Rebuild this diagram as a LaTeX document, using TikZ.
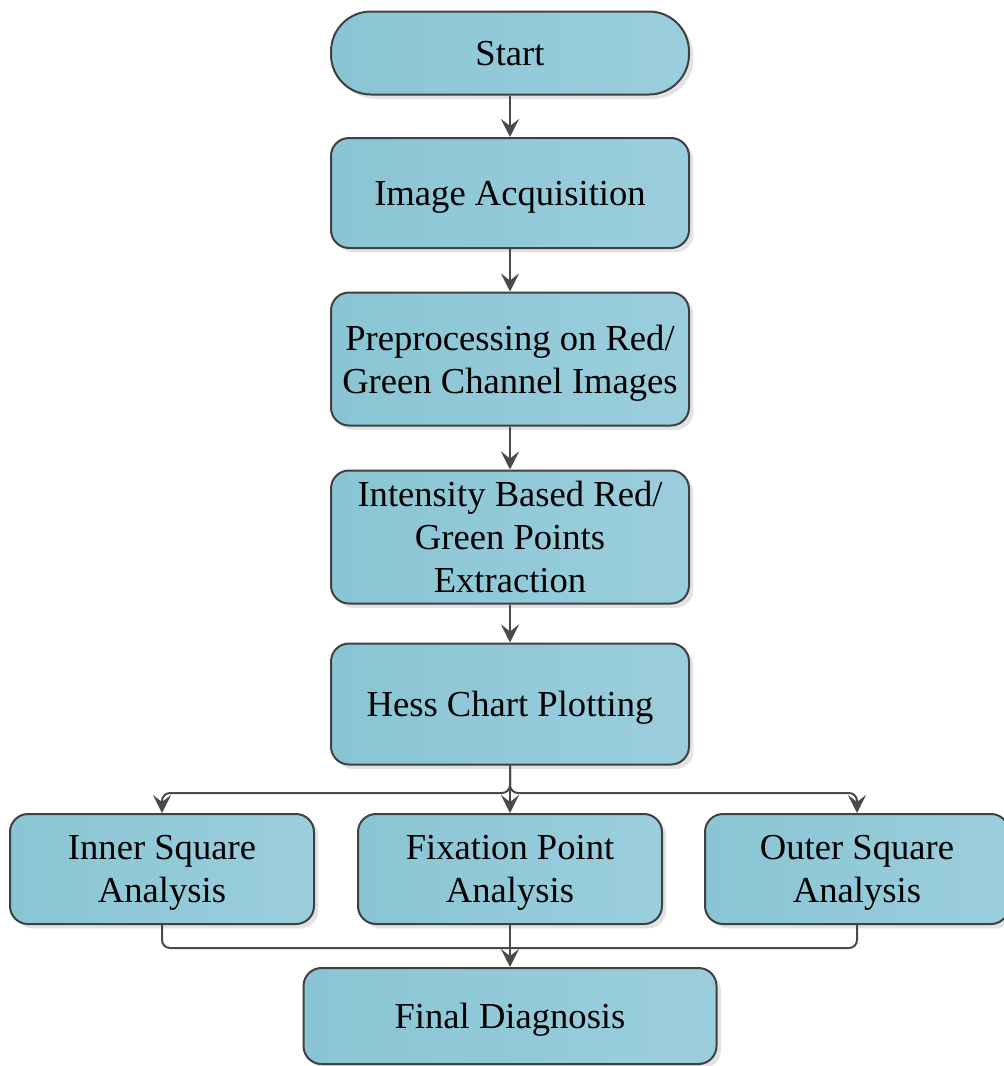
\documentclass[tikz,border=0pt]{standalone}
\usepackage{fontspec}
\setmainfont{Liberation Serif}
\usetikzlibrary{arrows.meta,shadows,positioning}

\definecolor{boxfill}{HTML}{89C5D4}
\definecolor{boxlight}{HTML}{9BCEDD}
\definecolor{boxline}{HTML}{404040}
\definecolor{wire}{HTML}{4A4A4A}

\tikzset{
  process/.style={draw=boxline, line width=1pt, rounded corners=9pt,
    left color=boxfill, right color=boxlight,
    drop shadow={shadow xshift=2.2pt, shadow yshift=-2.2pt, fill=black!22},
    align=center, inner sep=2pt, text depth=0pt,
    font=\fontsize{18.3}{21.6}\selectfont,
    minimum width=179pt, minimum height=55pt},
  terminal/.style={process, rounded corners=20pt, minimum height=41.5pt},
  branch/.style={process, minimum width=152pt},
  flow/.style={draw=wire, line width=1pt,
    -{Stealth[length=9pt, width=9pt, inset=3.5pt]}},
  wire/.style={draw=wire, line width=1pt},
}

\begin{document}
\begin{tikzpicture}[x=0.5pt, y=-0.5pt]
\useasboundingbox (0,0) rectangle (1003,1066);

% main column
\node[terminal] (start) at (510,53) {Start};
\node[process] (acq) at (510,193) {Image Acquisition};
\node[process, minimum height=66.5pt] (prep) at (510,359)
  {Preprocessing on Red/\\Green Channel Images};
\node[process, minimum height=66.5pt] (extract) at (510,537)
  {Intensity Based Red/\\Green Points\\Extraction};
\node[process, minimum height=60.5pt] (hess) at (510,704) {Hess Chart Plotting};

% three analyses
\node[branch] (inner) at (162,869) {Inner Square\\Analysis};
\node[branch] (fix) at (510,869) {Fixation Point\\Analysis};
\node[branch] (outer) at (857,869) {Outer Square\\Analysis};

\node[process, minimum width=206.5pt, minimum height=48pt] (final) at (510,1016)
  {Final Diagnosis};

\coordinate (split) at (510,793);
\coordinate (merge) at (510,948);

\draw[flow] (start) -- (acq);
\draw[flow] (acq) -- (prep);
\draw[flow] (prep) -- (extract);
\draw[flow] (extract) -- (hess);

\draw[flow, rounded corners=4pt] (hess.south) -- (split) -| (inner.north);
\draw[flow, rounded corners=4pt] (hess.south) -- (split) -| (outer.north);
\draw[flow] (hess.south) -- (fix.north);

\draw[wire, rounded corners=4pt] (inner.south) |- (merge);
\draw[wire, rounded corners=4pt] (outer.south) |- (merge);
\draw[flow] (fix.south) -- (final.north);
\end{tikzpicture}
\end{document}
